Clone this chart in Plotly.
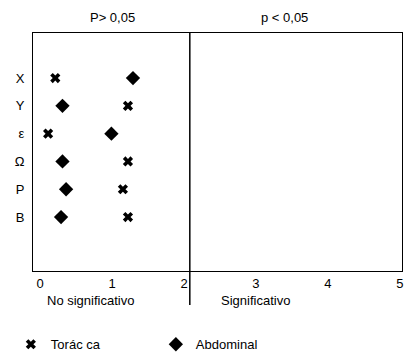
import plotly.graph_objects as go

# Variables on the vertical axis (top to bottom)
labels = ["X", "Y", "ε", "Ω", "P", "B"]
row_pos = [6, 5, 4, 3, 2, 1]

# Values per variable for each group
toracica = [0.21, 1.22, 0.11, 1.22, 1.15, 1.22]
abdominal = [1.29, 0.31, 0.99, 0.31, 0.36, 0.29]

x_ticks = [0, 1, 2, 3, 4, 5]
threshold = 2.08

FONT = "Liberation Sans, Arial, sans-serif"

fig = go.Figure()
fig.add_trace(go.Scatter(
    x=toracica, y=row_pos, mode="markers", name="Torác ca",
    marker=dict(symbol="x", size=9, color="black", line=dict(width=0)),
))
fig.add_trace(go.Scatter(
    x=abdominal, y=row_pos, mode="markers", name="Abdominal",
    marker=dict(symbol="diamond", size=11, color="black", line=dict(width=0)),
))

# Divider between the non-significant and significant regions
fig.add_shape(type="line", xref="x", yref="paper",
              x0=threshold, x1=threshold, y0=-0.143, y1=1,
              line=dict(color="black", width=1.5))

annots = [
    dict(x=1, y=1.0, yref="paper", text="P> 0,05", yanchor="bottom", yshift=6),
    dict(x=3.4, y=1.0, yref="paper", text="p < 0,05", yanchor="bottom", yshift=6),
    dict(x=0.7, y=-0.125, yref="paper", text="No significativo", yanchor="middle"),
    dict(x=3.0, y=-0.125, yref="paper", text="Significativo", yanchor="middle"),
]
for a in annots:
    fig.add_annotation(xref="x", showarrow=False,
                       font=dict(family=FONT, size=13, color="black"), **a)

fig.update_layout(
    width=409, height=360,
    margin=dict(l=33, r=7, t=33, b=89, autoexpand=False),
    paper_bgcolor="white", plot_bgcolor="white",
    font=dict(family=FONT, size=13, color="black"),
    showlegend=True,
    legend=dict(orientation="h", x=-0.06, y=-0.245, xanchor="left", yanchor="top",
                entrywidth=100, entrywidthmode="pixels",
                font=dict(family=FONT, size=13, color="black"),
                itemclick=False),
    xaxis=dict(range=[-0.1, 5.03], tickvals=x_ticks, ticktext=[str(v) for v in x_ticks],
               showgrid=False, zeroline=False, showline=True, linecolor="black",
               linewidth=1, mirror=True, ticks="",
               tickfont=dict(family=FONT, size=13)),
    yaxis=dict(range=[-0.94, 7.62], tickvals=row_pos, ticktext=labels,
               showgrid=False, zeroline=False, showline=True, linecolor="black",
               linewidth=1, mirror=True, ticks="", ticklabelstandoff=5,
               tickfont=dict(family=FONT, size=13)),
)

fig.write_html("out.html")
